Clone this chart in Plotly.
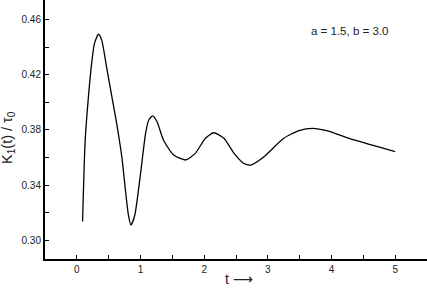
import plotly.graph_objects as go

t_vals = [0.09, 0.13, 0.18, 0.236, 0.277, 0.34, 0.39, 0.47, 0.55, 0.63, 0.71, 0.76, 0.81, 0.85,
          0.91, 1.00, 1.08, 1.13, 1.19, 1.26, 1.36, 1.52, 1.71, 1.86, 2.02, 2.15, 2.31, 2.47,
          2.62, 2.73, 2.94, 3.25, 3.49, 3.70, 3.94, 4.30, 4.67, 5.00]
k_vals = [0.3135, 0.3715, 0.403, 0.4297, 0.443, 0.4496, 0.4455, 0.4249, 0.4042, 0.3836, 0.3594,
          0.3376, 0.3182, 0.3109, 0.318, 0.348, 0.3776, 0.3873, 0.3902, 0.386, 0.3727, 0.3618,
          0.3582, 0.363, 0.374, 0.378, 0.374, 0.363, 0.3558, 0.3545, 0.3606, 0.374, 0.3795,
          0.3812, 0.3793, 0.3735, 0.3686, 0.3642]

x_ticks = [0, 1, 2, 3, 4, 5]
y_ticks = [0.30, 0.34, 0.38, 0.42, 0.46]
y_tick_labels = ["0.30", "0.34", "0.38", "0.42", "0.46"]

fig = go.Figure()
fig.add_trace(go.Scatter(x=t_vals, y=k_vals, mode="lines",
                         line=dict(color="black", width=1.3, shape="spline", smoothing=0.6),
                         showlegend=False, hoverinfo="skip"))

font_family = "Liberation Sans, Arial, sans-serif"

fig.update_layout(
    width=427, height=290,
    margin=dict(l=45, r=0, t=0, b=31),
    paper_bgcolor="white", plot_bgcolor="white",
    font=dict(family=font_family, color="#222222", size=10),
    xaxis=dict(range=[-0.5, 5.5], tickvals=x_ticks, ticktext=[str(v) for v in x_ticks],
               ticks="inside", ticklen=4, tickwidth=1, tickcolor="black",
               showline=True, linecolor="black", linewidth=2, showgrid=False, zeroline=False,
               minor=dict(dtick=0.5, ticks="inside", ticklen=4, tickcolor="black", showgrid=False),
               tickfont=dict(size=10, family=font_family, color="#222222")),
    yaxis=dict(range=[0.2862, 0.4745], tickvals=y_ticks, ticktext=y_tick_labels,
               ticks="inside", ticklen=4, tickwidth=1, tickcolor="black",
               showline=True, linecolor="black", linewidth=2, showgrid=False, zeroline=False,
               minor=dict(dtick=0.02, tick0=0.30, ticks="inside", ticklen=4, tickcolor="black", showgrid=False),
               tickfont=dict(size=10, family=font_family, color="#222222")),
    annotations=[
        dict(text="a = 1.5, b = 3.0", xref="paper", yref="paper", x=0.796, y=0.880,
             showarrow=False, font=dict(size=11.5, family=font_family, color="#222222"),
             xanchor="center", yanchor="middle"),
        dict(text="K<sub>1</sub>(t) / τ<sub>0</sub>", xref="paper", yref="paper",
             x=-0.095, y=0.47, textangle=-90, showarrow=False,
             font=dict(size=14.5, family=font_family, color="#222222"),
             xanchor="center", yanchor="middle"),
        dict(text="t <span style='font-family:DejaVu Sans'>⟶</span>", xref="paper", yref="paper",
             x=0.508, y=-0.077,
             showarrow=False, font=dict(size=14, family=font_family, color="#222222"),
             xanchor="center", yanchor="middle"),
    ],
)

fig.write_html("out.html", config={"displayModeBar": False},
               post_script="document.body.style.margin='0';document.body.style.padding='0';")
